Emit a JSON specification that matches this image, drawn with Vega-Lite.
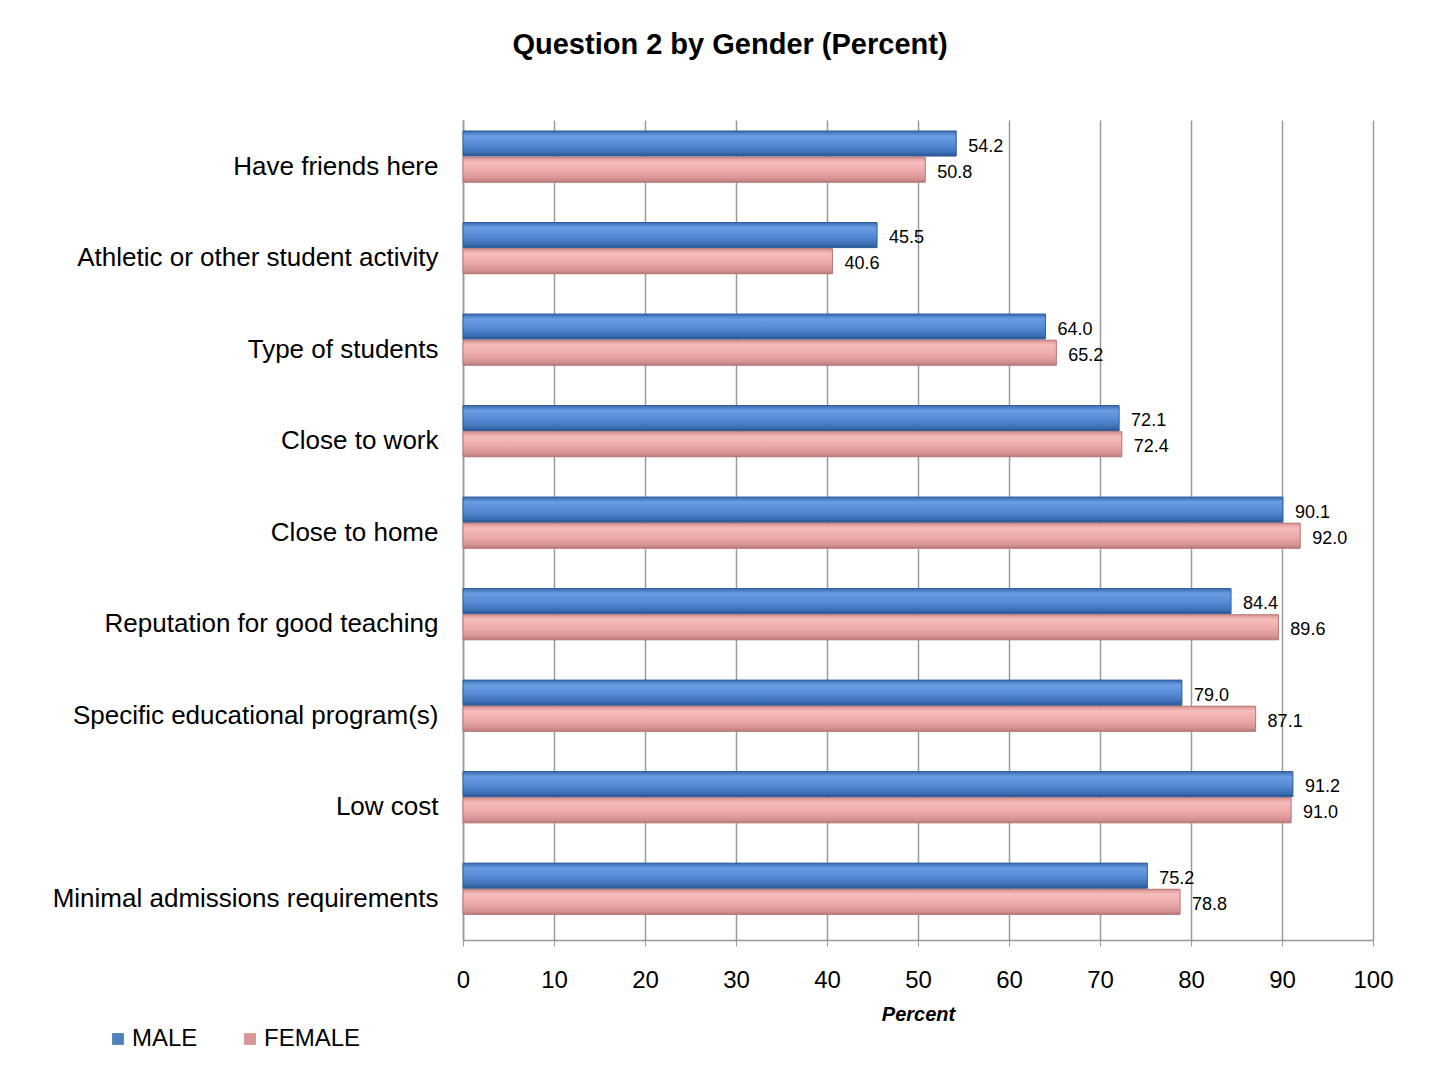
{
  "$schema": "https://vega.github.io/schema/vega-lite/v6.json",
  "autosize": "none",
  "width": 910,
  "height": 820,
  "padding": {"left": 463, "top": 120, "right": 69, "bottom": 135},
  "background": "white",
  "config": {
    "font": "Liberation Sans",
    "view": {"stroke": null}
  },
  "title": {
    "text": "Question 2 by Gender (Percent)",
    "fontSize": 29,
    "fontWeight": "bold",
    "font": "Liberation Sans",
    "anchor": "middle",
    "dx": -188,
    "offset": 46,
    "baseline": "middle",
    "color": "#000000"
  },
  "data": {
    "values": [
      {"reason": "Have friends here", "gender": "MALE", "pct": 54.2},
      {"reason": "Have friends here", "gender": "FEMALE", "pct": 50.8},
      {"reason": "Athletic or other student activity", "gender": "MALE", "pct": 45.5},
      {"reason": "Athletic or other student activity", "gender": "FEMALE", "pct": 40.6},
      {"reason": "Type of students", "gender": "MALE", "pct": 64.0},
      {"reason": "Type of students", "gender": "FEMALE", "pct": 65.2},
      {"reason": "Close to work", "gender": "MALE", "pct": 72.1},
      {"reason": "Close to work", "gender": "FEMALE", "pct": 72.4},
      {"reason": "Close to home", "gender": "MALE", "pct": 90.1},
      {"reason": "Close to home", "gender": "FEMALE", "pct": 92.0},
      {"reason": "Reputation for good teaching", "gender": "MALE", "pct": 84.4},
      {"reason": "Reputation for good teaching", "gender": "FEMALE", "pct": 89.6},
      {"reason": "Specific educational program(s)", "gender": "MALE", "pct": 79.0},
      {"reason": "Specific educational program(s)", "gender": "FEMALE", "pct": 87.1},
      {"reason": "Low cost", "gender": "MALE", "pct": 91.2},
      {"reason": "Low cost", "gender": "FEMALE", "pct": 91.0},
      {"reason": "Minimal admissions requirements", "gender": "MALE", "pct": 75.2},
      {"reason": "Minimal admissions requirements", "gender": "FEMALE", "pct": 78.8}
    ]
  },
  "encoding": {
    "y": {
      "field": "reason",
      "type": "nominal",
      "sort": null,
      "scale": {"paddingInner": 0.44, "paddingOuter": 0.2, "align": 0.3},
      "axis": {
        "title": null,
        "labelFontSize": 26,
        "labelColor": "#000000",
        "labelPadding": 25,
        "labelOffset": 10,
        "ticks": false,
        "domainColor": "#999999",
        "domainWidth": 1.5,
        "labelLimit": 500
      }
    },
    "yOffset": {
      "field": "gender",
      "type": "nominal",
      "sort": ["MALE", "FEMALE"],
      "scale": {"domain": ["MALE", "FEMALE"], "paddingInner": 0.04}
    },
    "x": {
      "field": "pct",
      "type": "quantitative",
      "scale": {"domain": [0, 100], "nice": false},
      "axis": {
        "title": "Percent",
        "titleFontSize": 20,
        "titleFontWeight": "bold",
        "titleFontStyle": "italic",
        "titleColor": "#000000",
        "titlePadding": 12,
        "values": [0, 10, 20, 30, 40, 50, 60, 70, 80, 90, 100],
        "labelFontSize": 24,
        "labelColor": "#000000",
        "labelPadding": 22,
        "labelFlush": false,
        "tickColor": "#999999",
        "tickSize": 6,
        "domainColor": "#999999",
        "domainWidth": 1.5,
        "grid": true,
        "gridColor": "#9a9a9a",
        "gridWidth": 1.5
      }
    }
  },
  "layer": [
    {
      "mark": {"type": "bar", "stroke": null},
      "encoding": {
        "color": {
          "field": "gender",
          "type": "nominal",
          "scale": {"domain": ["MALE", "FEMALE"], "range": ["#4F81BD", "#D99694"]},
          "legend": {
            "title": null,
            "orient": "none",
            "legendX": -357,
            "legendY": 907,
            "direction": "horizontal",
            "symbolType": "square",
            "symbolSize": 140,
            "symbolStrokeWidth": 0,
            "symbolOpacity": 1,
            "labelFontSize": 24,
            "labelColor": "#000000",
            "labelOffset": 2,
            "columnPadding": 40
          }
        }
      }
    },
    {
      "transform": [{"filter": "datum.gender === 'MALE'"}],
      "mark": {
        "type": "bar",
        "stroke": "#2F5E9E",
        "strokeWidth": 1,
        "fill": {
          "gradient": "linear",
          "x1": 0, "y1": 0, "x2": 0, "y2": 1,
          "stops": [
            {"offset": 0, "color": "#3A6AAE"},
            {"offset": 0.2, "color": "#6A9EE3"},
            {"offset": 0.55, "color": "#558BD6"},
            {"offset": 0.85, "color": "#3E70B6"},
            {"offset": 1, "color": "#2A5590"}
          ]
        }
      }
    },
    {
      "transform": [{"filter": "datum.gender === 'FEMALE'"}],
      "mark": {
        "type": "bar",
        "stroke": "#B87878",
        "strokeWidth": 1,
        "fill": {
          "gradient": "linear",
          "x1": 0, "y1": 0, "x2": 0, "y2": 1,
          "stops": [
            {"offset": 0, "color": "#D99393"},
            {"offset": 0.2, "color": "#F6BDBD"},
            {"offset": 0.55, "color": "#EEAAAA"},
            {"offset": 0.85, "color": "#D89494"},
            {"offset": 1, "color": "#B97A7A"}
          ]
        }
      }
    },
    {
      "mark": {"type": "text", "align": "left", "baseline": "middle", "dx": 12, "dy": 3, "fontSize": 18, "color": "#000000"},
      "encoding": {
        "text": {"field": "pct", "type": "quantitative", "format": ".1f"}
      }
    }
  ]
}
